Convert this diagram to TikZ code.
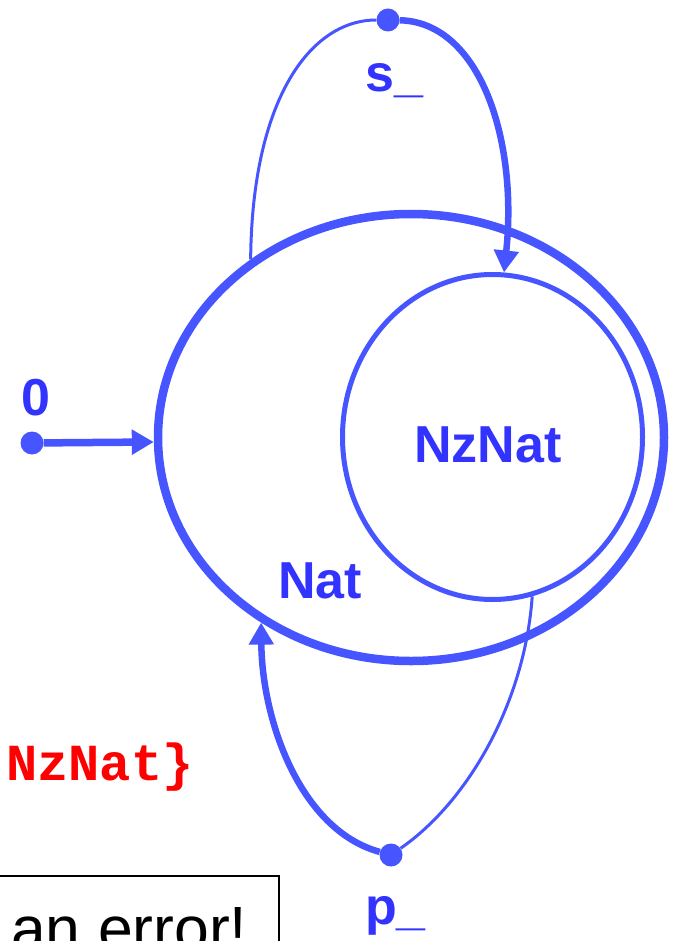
\documentclass[tikz,border=0pt]{standalone}
\usepackage{fontspec}
\setmainfont{Liberation Sans}
\newfontfamily\monofam{Liberation Mono}
\usetikzlibrary{shapes.geometric,arrows.meta}
\definecolor{lblue}{RGB}{70,85,255}
\definecolor{tblue}{RGB}{51,51,255}
\definecolor{tred}{RGB}{255,0,0}
\tikzset{
  setring/.style={draw=lblue, ellipse, inner sep=0pt},
  dotnode/.style={circle, fill=lblue, inner sep=0pt, minimum size=23pt},
  lbl/.style={text=tblue, font=\fontsize{52}{60}\selectfont\bfseries, anchor=base west, inner sep=0pt},
  thickarr/.style={draw=lblue, line width=6.5pt, -{Triangle[length=22pt,width=24pt]}},
  thinline/.style={draw=lblue, line width=3pt},
}
\begin{document}
\begin{tikzpicture}[x=1pt,y=-1pt]
\useasboundingbox (0,0) rectangle (675,941);
\clip (0,0) rectangle (675,941);
\node[setring, line width=8.5pt, minimum width=506pt, minimum height=447pt] (nat) at (411,437.5) {};
\node[setring, line width=5pt, minimum width=300pt, minimum height=325pt] (nz) at (492.5,437) {};
\node[dotnode] (s) at (388,20) {};
\node[dotnode] (p) at (391,855) {};
\node[dotnode] (z) at (32,443) {};
% labels
\node[lbl] (zl) at (21,415) {0};
\node[lbl] (sl) at (365,92) {s\_};
\node[lbl] (pl) at (365,924) {p\_};
\node[lbl] (natl) at (278,598) {Nat};
\node[lbl] (nzl) at (414,462) {NzNat};
\node[anchor=base west, inner sep=0pt] (red) at (6,780) {\monofam\bfseries\fontsize{52}{58}\selectfont\color{tred}NzNat\}};
% error box
\draw[black, line width=1.3pt] (-5,876) rectangle (279,1000);
\node[anchor=base west, inner sep=0pt] (err) at (11,950) {\fontsize{62.5}{70}\selectfont an error!};
% connectors
\draw[thickarr, line width=7.5pt] (z) -- (nat.181);
\draw[thinline] (nat.132.8) .. controls (252,100) and (310,20) .. (s);
\draw[thickarr] (s) .. controls (480,22) and (518,140) .. (nz.86);
\draw[thickarr] (p) .. controls (300,830) and (262,720) .. (nat.231);
\draw[thinline] (p) .. controls (470,800) and (525,700) .. (nz.284.5);
\end{tikzpicture}
\end{document}
